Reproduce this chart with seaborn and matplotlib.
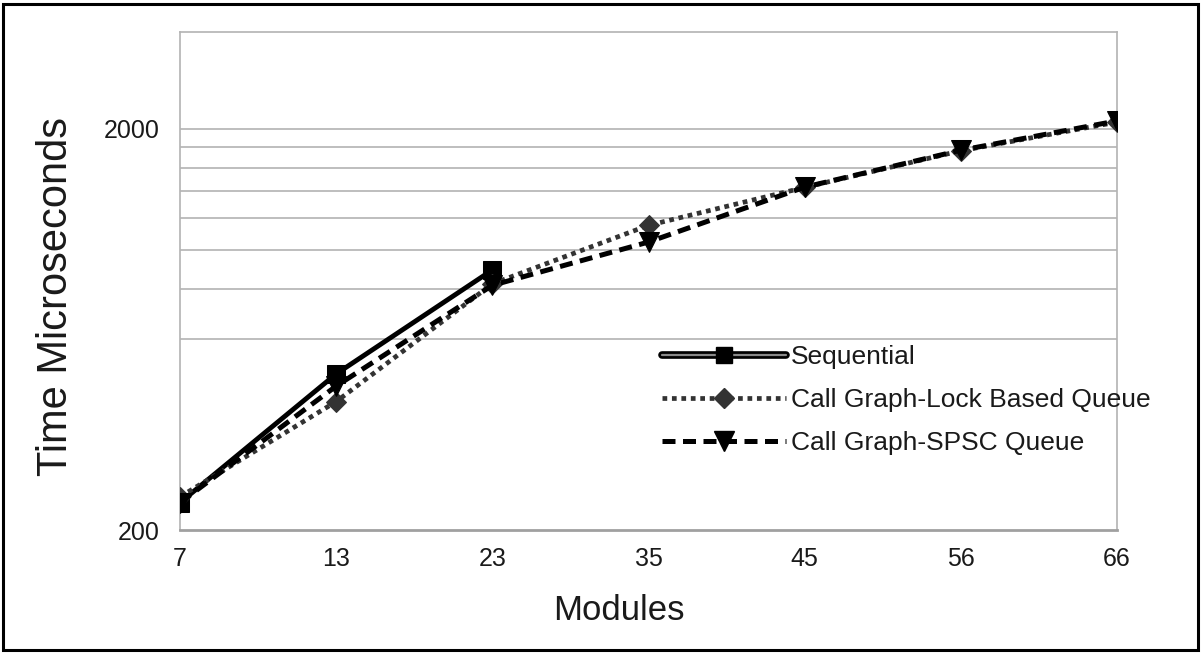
import numpy as np
import pandas as pd
import matplotlib
matplotlib.use("Agg")
import matplotlib.pyplot as plt
import matplotlib.patheffects as pe
from matplotlib.lines import Line2D
from matplotlib.legend_handler import HandlerTuple
from matplotlib.patches import Rectangle
from matplotlib.ticker import FixedLocator, FixedFormatter, NullFormatter
import seaborn as sns

# Execution time (microseconds) per number of modules
modules = ["7", "13", "23", "35", "45", "56", "66"]
sequential = [234, 490, 890, np.nan, np.nan, np.nan, np.nan]
lock_queue = [242, 418, 822, 1150, 1430, 1765, 2080]
spsc_queue = [234, 457, 815, 1045, 1432, 1770, 2095]

series_names = ["Sequential", "Call Graph-Lock Based Queue", "Call Graph-SPSC Queue"]
y_major = [200, 2000]
y_grid = [600, 800, 1000, 1200, 1400, 1600, 1800]

df = pd.DataFrame({
    "Modules": modules,
    series_names[0]: sequential,
    series_names[1]: lock_queue,
    series_names[2]: spsc_queue,
}).melt(id_vars="Modules", var_name="series", value_name="time")

sns.set_theme(style="white")
plt.rcParams["font.family"] = ["Liberation Sans", "DejaVu Sans"]

W, H = 1202, 654
fig = plt.figure(figsize=(W / 100, H / 100), dpi=100)
ax = fig.add_axes([180 / W, (H - 530) / H, 937 / W, 498 / H])

styles = {
    series_names[0]: dict(color="black", linestyle="-", lw=3.5, marker="s", markersize=13),
    series_names[1]: dict(color="#333333", linestyle=(0, (1, 1)), lw=3.4, marker="D", markersize=10),
    series_names[2]: dict(color="black", linestyle=(0, (2.6, 1.5)), lw=3.6, marker="v", markersize=15),
}

for name in series_names:
    sub = df[df["series"] == name].dropna()
    st = styles[name]
    sns.lineplot(data=sub, x="Modules", y="time", ax=ax, sort=False,
                 color=st["color"], linestyle=st["linestyle"], lw=st["lw"],
                 marker=st["marker"], markersize=st["markersize"],
                 markeredgecolor=st["color"], markerfacecolor=st["color"],
                 label=name, legend=False, zorder=3)

ax.set_yscale("log")
ax.set_ylim(200, 3490)
ax.set_xlim(0, len(modules) - 1)

grid_c = "#b3b3b3"
ax.yaxis.set_major_locator(FixedLocator(y_major))
ax.yaxis.set_major_formatter(FixedFormatter([str(v) for v in y_major]))
ax.yaxis.set_minor_locator(FixedLocator(y_grid))
ax.yaxis.set_minor_formatter(NullFormatter())
for v in y_grid + [2000]:
    ax.axhline(v, color=grid_c, lw=1.2, zorder=1)

for s in ax.spines.values():
    s.set_color(grid_c)
    s.set_linewidth(1.2)
ax.spines["bottom"].set_color("#a0a0a0")
ax.spines["bottom"].set_linewidth(2)

ax.tick_params(axis="y", which="major", direction="out", length=9, width=1.2,
               color=grid_c, labelsize=18, pad=6, labelcolor="#1a1a1a")
ax.tick_params(axis="y", which="minor", length=0)
ax.tick_params(axis="x", direction="out", length=5, width=1.2, color=grid_c,
               labelsize=18, pad=7, labelcolor="#1a1a1a")

ax.set_xlabel("Modules", fontsize=25, color="#1a1a1a")
ax.set_ylabel("Time Microseconds", fontsize=30, color="#1a1a1a")
ax.xaxis.set_label_coords(0.4685, -0.128)
ax.yaxis.set_label_coords(-0.111, 0.468)

# Legend: Sequential drawn with a hollow double-rule line
seq_rule = Line2D([], [], color="black", lw=5,
                  path_effects=[pe.Stroke(linewidth=5.5, foreground="black"),
                                pe.Stroke(linewidth=1.6, foreground="#8a8a8a")])
seq_mark = Line2D([], [], color="black", linestyle="none", marker="s", markersize=11)
lock_h = Line2D([], [], **styles[series_names[1]])
spsc_h = Line2D([], [], **styles[series_names[2]])
leg = ax.legend([(seq_rule, seq_mark), lock_h, spsc_h], series_names,
                handler_map={tuple: HandlerTuple(ndivide=1, pad=0)},
                loc="upper left", bbox_to_anchor=(662 / W, 1 - 345 / H),
                bbox_transform=fig.transFigure, frameon=False, fontsize=19,
                handlelength=4.7, handletextpad=0.2, labelspacing=0.72,
                borderpad=0, borderaxespad=0, numpoints=1)
for t in leg.get_texts():
    t.set_color("#1a1a1a")

fig.patches.append(Rectangle((3 / W, 4 / H), (W - 7) / W, (H - 8) / H,
                             transform=fig.transFigure, fill=False,
                             edgecolor="black", lw=2.2))

fig.savefig("out.png", dpi=100, facecolor="white")
